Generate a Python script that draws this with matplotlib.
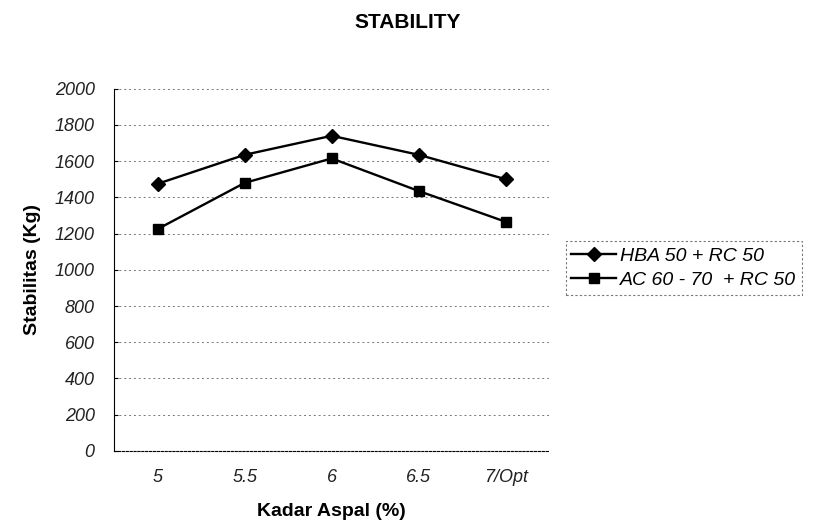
import matplotlib
matplotlib.use("Agg")
import matplotlib.pyplot as plt

plt.rcParams['font.family'] = ['Liberation Sans', 'DejaVu Sans']

# kadar aspal categories
kadar = ["5", "5.5", "6", "6.5", "7/Opt"]
hba = [1475, 1635, 1740, 1635, 1500]   # HBA 50 + RC 50
ac = [1225, 1480, 1615, 1435, 1265]    # AC 60 - 70 + RC 50
yticks = [0, 200, 400, 600, 800, 1000, 1200, 1400, 1600, 1800, 2000]

fig = plt.figure(figsize=(8.15, 5.28), dpi=100)
ax = fig.add_axes([0.14, 0.146, 0.534, 0.686])

x = range(len(kadar))
ax.plot(x, hba, color="black", lw=1.7, marker="D", ms=7, label="HBA 50 + RC 50")
ax.plot(x, ac, color="black", lw=1.7, marker="s", ms=7.5, label="AC 60 - 70  + RC 50")

ax.set_xlim(-0.5, len(kadar) - 0.5)
ax.set_ylim(0, 2000)
ax.set_yticks(yticks)
ax.set_xticks(list(x))
ax.set_xticklabels(kadar)
for lbl in ax.get_xticklabels() + ax.get_yticklabels():
    lbl.set_fontstyle("italic")
    lbl.set_fontsize(13)
    lbl.set_color("#222222")
ax.tick_params(axis="x", length=0, pad=13)
ax.tick_params(axis="y", length=3, pad=14, direction="in")

ax.grid(axis="y", color="#777777", linestyle=(0, (2, 3)), lw=0.7)
for s in ["top", "right"]:
    ax.spines[s].set_visible(False)
ax.spines["left"].set_linestyle((0, (3, 1)))
ax.spines["left"].set_linewidth(0.8)
ax.spines["bottom"].set_linestyle((0, (2, 1.5)))
ax.spines["bottom"].set_linewidth(0.8)

ax.set_ylabel("Stabilitas (Kg)", fontsize=14, fontweight="bold", labelpad=10)
ax.set_xlabel("Kadar Aspal (%)", fontsize=14, fontweight="bold", labelpad=12)
fig.text(0.5, 0.958, "STABILITY", fontsize=15, fontweight="bold",
         ha="center", va="center")

leg = ax.legend(loc="upper left", bbox_to_anchor=(0.694, 0.543),
                bbox_transform=fig.transFigure, frameon=True,
                fancybox=False, handlelength=2.3, handletextpad=0.2,
                borderpad=0.3, borderaxespad=0, labelspacing=0.35,
                prop={"style": "italic", "size": 14})
leg.get_frame().set_edgecolor("#555555")
leg.get_frame().set_linestyle((0, (2, 2)))
leg.get_frame().set_linewidth(0.8)

fig.savefig("out.png", dpi=100)
